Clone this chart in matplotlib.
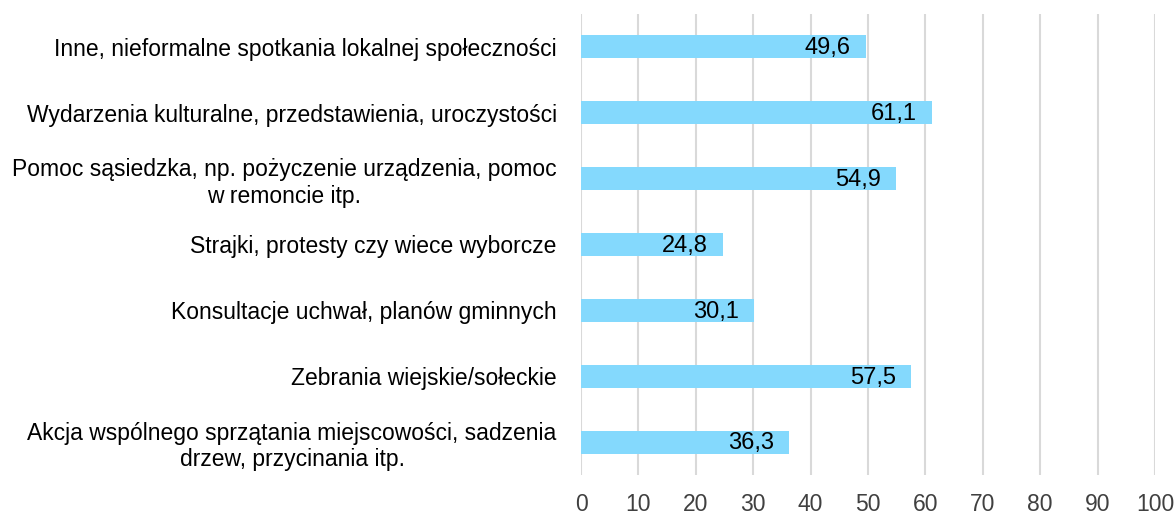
import matplotlib
matplotlib.use("Agg")
import matplotlib.pyplot as plt

plt.rcParams['font.family'] = ["Liberation Sans", "DejaVu Sans"]

categories = [
    "Inne, nieformalne spotkania lokalnej społeczności",
    "Wydarzenia kulturalne, przedstawienia, uroczystości",
    "Pomoc sąsiedzka, np. pożyczenie urządzenia, pomoc\nw remoncie itp.",
    "Strajki, protesty czy wiece wyborcze",
    "Konsultacje uchwał, planów gminnych",
    "Zebrania wiejskie/sołeckie",
    "Akcja wspólnego sprzątania miejscowości, sadzenia\ndrzew, przycinania itp.",
]
values = [49.6, 61.1, 54.9, 24.8, 30.1, 57.5, 36.3]
value_labels = ["49,6", "61,1", "54,9", "24,8", "30,1", "57,5", "36,3"]
xticks = [0, 10, 20, 30, 40, 50, 60, 70, 80, 90, 100]

fig = plt.figure(figsize=(11.75, 5.17), dpi=100)
ax = fig.add_axes([0.4945, 0.0812, 0.4885, 0.892])

y = list(range(len(categories)))
ax.barh(y, values, height=0.35, color="#84D9FD", zorder=3)
for yi, v, lab in zip(y, values, value_labels):
    ax.annotate(lab, (v, yi), xytext=(-11, -1), textcoords="offset points",
                ha="right", va="center", fontsize=17, color="black", zorder=4)

ax.set_xlim(0, 100)
ax.set_ylim(len(categories) - 0.5, -0.5)
ax.set_xticks(xticks)
ax.set_xticklabels([str(t) for t in xticks], fontsize=16.5, color="#404040")
ax.set_yticks(y)
ax.set_yticklabels(categories, fontsize=16.5, color="black", multialignment="center")
ax.tick_params(axis="both", length=0)
ax.tick_params(axis="x", pad=13)
ax.tick_params(axis="y", pad=17.5)
for s in ax.spines.values():
    s.set_visible(False)
ax.grid(axis="x", color="#d9d9d9", linewidth=1.5, zorder=0)
ax.grid(axis="y", visible=False)

fig.savefig("out.png", dpi=100)
